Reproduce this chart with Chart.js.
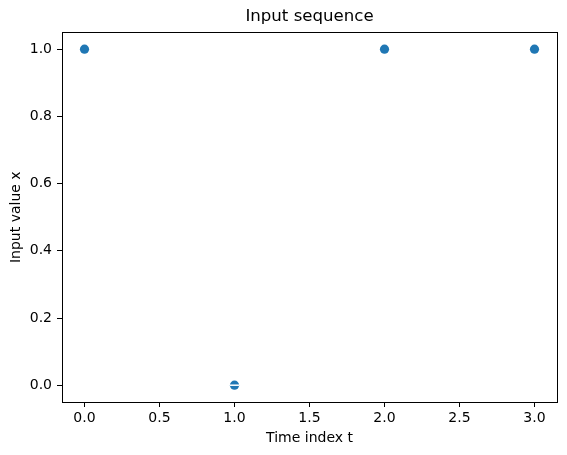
<!DOCTYPE html>
<html>
<head>
<meta charset="utf-8">
<script src="https://cdn.jsdelivr.net/npm/chart.js@4.4.0/dist/chart.umd.min.js"></script>
<style>
  html, body { margin: 0; padding: 0; background: #fff; }
  #wrap { width: 567px; height: 455px; }
</style>
</head>
<body>
<div id="wrap"><canvas id="chart" width="567" height="455"></canvas></div>
<script>
// data
const timeIndex = [0, 1, 2, 3];
const inputValues = [1, 0, 1, 1];
const xTicks = [0, 0.5, 1, 1.5, 2, 2.5, 3];
const yTicks = [0, 0.2, 0.4, 0.6, 0.8, 1.0];

const font = 'DejaVu Sans';

// box round the plot area, like matplotlib spines
const frame = {
    id: 'frame',
    afterDatasetsDraw(chart) {
        const a = chart.chartArea;
        const ctx = chart.ctx;
        ctx.save();
        ctx.strokeStyle = '#000';
        ctx.lineWidth = 1;
        ctx.strokeRect(Math.round(a.left) + 0.5, Math.round(a.top) + 0.5,
            Math.round(a.right - a.left), Math.round(a.bottom - a.top));
        ctx.restore();
    }
};

// the zero point shows a thin white stripe through it
const zeroStripe = {
    id: 'zeroStripe',
    afterDatasetsDraw(chart) {
        const meta = chart.getDatasetMeta(0);
        const ctx = chart.ctx;
        ctx.save();
        ctx.strokeStyle = '#fff';
        ctx.lineWidth = 1.5;
        meta.data.forEach((pt, i) => {
            if (inputValues[i] !== 0) return;
            const r = pt.options.radius;
            ctx.beginPath();
            ctx.moveTo(pt.x - r, pt.y);
            ctx.lineTo(pt.x + r, pt.y);
            ctx.stroke();
        });
        ctx.restore();
    }
};

new Chart(document.getElementById('chart'), {
    type: 'scatter',
    data: {
        datasets: [{
            data: timeIndex.map((t, i) => ({ x: t, y: inputValues[i] })),
            backgroundColor: '#1f77b4',
            borderWidth: 0,
            pointRadius: 4.6,
            pointHoverRadius: 4.6
        }]
    },
    options: {
        responsive: false,
        animation: false,
        layout: { padding: { left: 0, right: 10, top: 0, bottom: 0 } },
        plugins: {
            legend: { display: false },
            tooltip: { enabled: false },
            title: {
                display: true,
                text: 'Input sequence',
                color: '#000',
                fullSize: false,
                font: { family: font, size: 16.6, weight: 'normal' },
                padding: { top: 6.5, bottom: 6 }
            }
        },
        scales: {
            x: {
                type: 'linear',
                min: -0.15,
                max: 3.15,
                afterBuildTicks: s => { s.ticks = xTicks.map(v => ({ value: v })); },
                afterFit: s => { s.height = 53; },
                grid: { drawOnChartArea: false, drawTicks: true, tickLength: 5, color: '#000' },
                border: { color: '#000' },
                ticks: {
                    color: '#000',
                    padding: 3,
                    maxRotation: 0,
                    font: { family: font, size: 14 },
                    callback: v => v.toFixed(1)
                },
                title: {
                    display: true,
                    text: 'Time index t',
                    color: '#000',
                    font: { family: font, size: 14 },
                    padding: { top: 0, bottom: 8 }
                }
            },
            y: {
                min: -0.05,
                max: 1.05,
                afterBuildTicks: s => { s.ticks = yTicks.map(v => ({ value: v })); },
                afterFit: s => { s.width = 62; },
                grid: { drawOnChartArea: false, drawTicks: true, tickLength: 5, color: '#000' },
                border: { color: '#000' },
                ticks: {
                    color: '#000',
                    padding: 5,
                    font: { family: font, size: 14 },
                    callback: v => v.toFixed(1)
                },
                title: {
                    display: true,
                    text: 'Input value x',
                    color: '#000',
                    font: { family: font, size: 14 },
                    padding: { top: 8, bottom: 0 }
                }
            }
        }
    },
    plugins: [frame, zeroStripe]
});
</script>
</body>
</html>
